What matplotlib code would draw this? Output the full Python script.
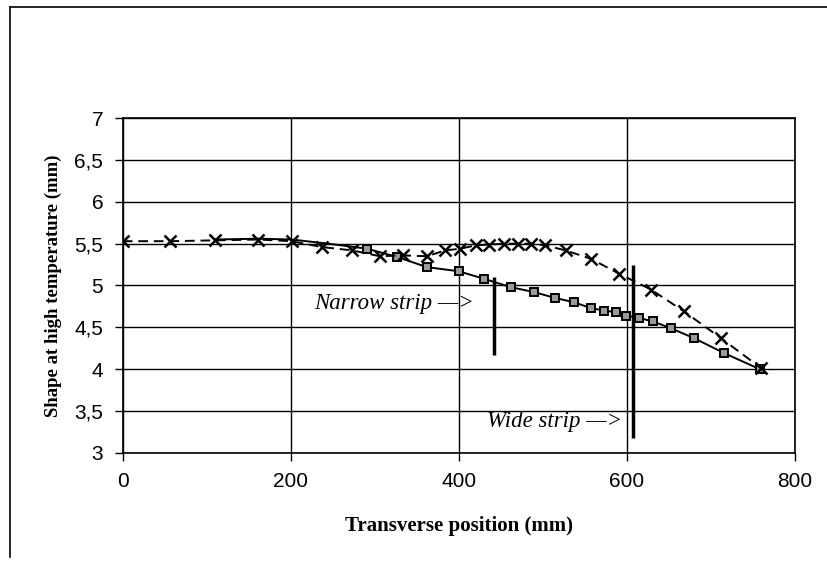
import matplotlib.pyplot as plt
from matplotlib.lines import Line2D

# series
x_cross = [0, 56, 110, 161, 201, 237, 273, 306, 333, 362, 384, 402, 420, 436,
           454, 470, 486, 503, 527, 557, 591, 629, 668, 712, 760]
y_cross = [5.53, 5.53, 5.54, 5.55, 5.53, 5.46, 5.42, 5.35, 5.36, 5.35, 5.42,
           5.44, 5.48, 5.49, 5.50, 5.50, 5.50, 5.48, 5.42, 5.32, 5.14, 4.95,
           4.69, 4.37, 4.01]

x_square = [110, 161, 201, 245, 291, 327, 362, 400, 430, 462, 490, 515, 537,
            557, 573, 587, 599, 615, 631, 652, 680, 716, 758]
y_square = [5.55, 5.56, 5.55, 5.50, 5.44, 5.34, 5.22, 5.17, 5.08, 4.98, 4.92,
            4.85, 4.80, 4.73, 4.70, 4.68, 4.64, 4.61, 4.57, 4.49, 4.37, 4.19,
            4.00]

# strip edge markers: (x, y_bottom, y_top)
narrow_strip = (442, 4.17, 5.10)
wide_strip = (607, 3.17, 5.25)

x_ticks = [0, 200, 400, 600, 800]
y_ticks = [3, 3.5, 4, 4.5, 5, 5.5, 6, 6.5, 7]
y_tick_labels = ['3', '3,5', '4', '4,5', '5', '5,5', '6', '6,5', '7']

fig = plt.figure(figsize=(8.28, 5.65), dpi=100)
ax = fig.add_axes([0.1482, 0.1988, 0.8118, 0.5918])

# squares hidden under the crosses at the left end, so skip those markers
ax.plot(x_square, y_square, color='black', lw=1.4, marker='s', ms=6,
        mfc='#9a9a9a', mec='black', mew=1.4, markevery=list(range(4, len(x_square))),
        zorder=3)
ax.plot(x_cross, y_cross, color='black', lw=1.4, ls=(0, (5, 3)), marker='x',
        ms=9, mew=1.8, zorder=4)

for xs, y0, y1 in (narrow_strip, wide_strip):
    ax.vlines(xs, y0, y1, color='black', lw=2.5, zorder=5)

serif = ['Liberation Serif', 'DejaVu Serif']
ax.text(418, 4.79, 'Narrow strip \u2014>', ha='right', va='center',
        fontsize=16.5, style='italic', family=serif)
ax.text(594, 3.37, 'Wide strip \u2014>', ha='right', va='center',
        fontsize=16.5, style='italic', family=serif)

ax.set_xlim(0, 800)
ax.set_ylim(3, 7)
ax.set_xticks(x_ticks)
ax.set_yticks(y_ticks)
ax.set_yticklabels(y_tick_labels)
ax.grid(True, color='black', lw=1.0)
ax.set_axisbelow(True)
for s in ax.spines.values():
    s.set_linewidth(1.2)
ax.tick_params(direction='out', length=6, width=1, labelsize=15, pad=8)
for lab in ax.get_xticklabels() + ax.get_yticklabels():
    lab.set_family(['Liberation Sans', 'DejaVu Sans'])

ax.set_xlabel('Transverse position (mm)', fontsize=15, fontweight='bold',
              family=serif, labelpad=18)
ax.set_ylabel('Shape at high temperature (mm)', fontsize=13.5, fontweight='bold',
              family=serif, labelpad=9)

# scanned frame around the chart
fig.add_artist(Line2D([10 / 828, 1], [1 - 7 / 565] * 2, color='black', lw=1.2))
fig.add_artist(Line2D([10 / 828] * 2, [1 - 7 / 565, 8 / 565], color='black', lw=1.2))

fig.savefig('out.png', dpi=100)
